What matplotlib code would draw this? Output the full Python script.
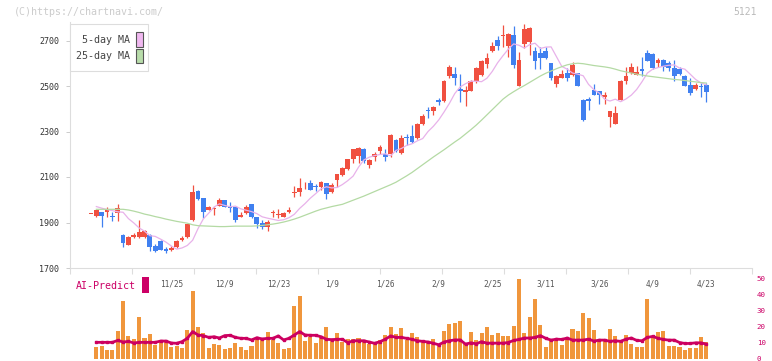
import numpy as np
import matplotlib
matplotlib.use("Agg")
import matplotlib.pyplot as plt
from matplotlib.patches import Rectangle

# daily candles, oldest first (index 0 is a flat no-trade day)
opens = [1939, 1927, 1946, 1948, 1930, 1940, 1844, 1802, 1837, 1837,
         1837, 1844, 1797, 1819, 1783, 1778, 1792, 1825, 1837, 1911,
         2038, 2006, 1955, 1958, 1974, 1998, 1967, 1968, 1925, 1941,
         1980, 1922, 1896, 1881, 1940, 1933, 1925, 1948, 2028, 2034,
         2054, 2072, 2060, 2056, 2072, 2034, 2085, 2108, 2137, 2177,
         2191, 2225, 2152, 2187, 2216, 2203, 2199, 2264, 2206, 2274,
         2282, 2272, 2334, 2394, 2388, 2437, 2432, 2542, 2553, 2488,
         2472, 2479, 2520, 2549, 2597, 2655, 2702, 2718, 2677, 2724,
         2501, 2683, 2695, 2654, 2644, 2654, 2600, 2508, 2537, 2556,
         2549, 2556, 2440, 2441, 2483, 2476, 2450, 2362, 2335, 2440,
         2524, 2556, 2550, 2574, 2644, 2641, 2603, 2615, 2603, 2578,
         2575, 2545, 2505, 2488, 2501, 2505]
highs = [1939, 1956, 1948, 1968, 1946, 1980, 1849, 1840, 1854, 1910,
         1866, 1849, 1805, 1822, 1793, 1796, 1825, 1841, 1895, 2063,
         2043, 2009, 1972, 1970, 2009, 2000, 1989, 1970, 1947, 1976,
         1982, 1924, 1910, 1910, 1955, 1958, 1944, 1966, 2060, 2094,
         2079, 2085, 2071, 2082, 2075, 2075, 2113, 2143, 2181, 2225,
         2234, 2227, 2177, 2208, 2240, 2225, 2289, 2269, 2286, 2291,
         2327, 2337, 2377, 2406, 2410, 2447, 2527, 2593, 2583, 2553,
         2498, 2526, 2585, 2615, 2644, 2692, 2721, 2768, 2731, 2765,
         2651, 2772, 2759, 2673, 2673, 2673, 2602, 2549, 2571, 2578,
         2604, 2558, 2444, 2451, 2510, 2478, 2473, 2391, 2413, 2527,
         2583, 2600, 2588, 2626, 2658, 2643, 2622, 2618, 2610, 2615,
         2585, 2547, 2534, 2513, 2513, 2515]
lows = [1939, 1925, 1880, 1924, 1907, 1907, 1793, 1800, 1830, 1831,
        1834, 1776, 1771, 1777, 1765, 1776, 1787, 1820, 1834, 1907,
        1997, 1921, 1953, 1932, 1971, 1966, 1944, 1903, 1922, 1936,
        1920, 1878, 1871, 1863, 1922, 1919, 1922, 1941, 2014, 2017,
        2046, 2041, 2039, 2041, 2005, 2031, 2054, 2105, 2129, 2162,
        2162, 2162, 2140, 2170, 2202, 2170, 2187, 2209, 2199, 2240,
        2250, 2269, 2327, 2359, 2371, 2415, 2429, 2537, 2505, 2428,
        2410, 2476, 2512, 2542, 2578, 2648, 2658, 2673, 2629, 2581,
        2498, 2666, 2636, 2575, 2575, 2619, 2527, 2494, 2534, 2520,
        2546, 2500, 2348, 2396, 2461, 2420, 2422, 2318, 2333, 2437,
        2510, 2553, 2548, 2545, 2610, 2575, 2582, 2568, 2564, 2524,
        2550, 2500, 2462, 2483, 2450, 2428]
closes = [1939, 1953, 1929, 1959, 1924, 1962, 1811, 1835, 1846, 1857,
          1862, 1793, 1776, 1780, 1776, 1789, 1818, 1834, 1892, 2032,
          2002, 1946, 1970, 1961, 1998, 1968, 1963, 1910, 1932, 1968,
          1922, 1893, 1881, 1904, 1944, 1937, 1941, 1953, 2033, 2050,
          2058, 2043, 2056, 2079, 2025, 2065, 2111, 2140, 2177, 2221,
          2228, 2170, 2173, 2203, 2234, 2187, 2286, 2216, 2272, 2270,
          2253, 2334, 2369, 2390, 2407, 2428, 2524, 2585, 2537, 2476,
          2483, 2523, 2578, 2610, 2625, 2676, 2676, 2722, 2728, 2593,
          2615, 2750, 2756, 2610, 2622, 2622, 2534, 2542, 2552, 2537,
          2593, 2502, 2352, 2436, 2462, 2459, 2462, 2389, 2382, 2524,
          2545, 2584, 2562, 2568, 2612, 2577, 2615, 2583, 2578, 2542,
          2553, 2502, 2469, 2505, 2495, 2472]

ma5 = [np.nan, 1970, 1963, 1957, 1952, 1947, 1945, 1917, 1898, 1876,
       1862, 1842, 1839, 1827, 1814, 1797, 1783, 1788, 1799, 1822,
       1873, 1916, 1941, 1968, 1982, 1975, 1969, 1972, 1960, 1954,
       1948, 1939, 1925, 1919, 1914, 1909, 1912, 1921, 1936, 1962,
       1983, 2007, 2027, 2048, 2057, 2052, 2054, 2067, 2084, 2104,
       2143, 2175, 2187, 2194, 2199, 2202, 2193, 2217, 2225, 2239,
       2246, 2259, 2269, 2300, 2323, 2351, 2386, 2424, 2467, 2496,
       2510, 2521, 2521, 2519, 2534, 2564, 2602, 2633, 2662, 2685,
       2679, 2667, 2682, 2688, 2665, 2671, 2672, 2629, 2586, 2574,
       2557, 2552, 2545, 2507, 2484, 2469, 2442, 2434, 2442, 2431,
       2443, 2460, 2485, 2519, 2557, 2574, 2581, 2587, 2591, 2593,
       2579, 2574, 2552, 2529, 2514, 2505]
ma25 = [np.nan, 1958, 1958, 1958, 1958, 1958, 1958, 1955, 1950, 1944,
        1937, 1932, 1926, 1921, 1915, 1910, 1905, 1901, 1897, 1890,
        1886, 1885, 1884, 1883, 1882, 1882, 1883, 1884, 1884, 1884,
        1884, 1885, 1887, 1890, 1893, 1897, 1902, 1908, 1915, 1923,
        1932, 1941, 1950, 1958, 1964, 1970, 1975, 1980, 1989, 1998,
        2007, 2016, 2026, 2036, 2046, 2056, 2066, 2077, 2091, 2105,
        2120, 2137, 2154, 2171, 2188, 2204, 2220, 2237, 2254, 2270,
        2289, 2308, 2328, 2350, 2373, 2396, 2419, 2442, 2460, 2475,
        2489, 2502, 2516, 2530, 2544, 2556, 2566, 2576, 2585, 2593,
        2598, 2600, 2598, 2594, 2590, 2587, 2584, 2580, 2574, 2567,
        2562, 2557, 2552, 2548, 2544, 2541, 2538, 2535, 2532, 2529,
        2527, 2524, 2521, 2518, 2515, 2513]

volume = [0, 7.4, 8.0, 5.5, 5.5, 17.4, 36.1, 14.1, 12.2, 26.1,
          13.0, 15.3, 8.4, 11.6, 10.5, 7.4, 8.0, 6.8, 17.8, 42.4,
          19.9, 16.1, 6.8, 9.1, 8.4, 5.9, 6.8, 9.5, 7.4, 5.5,
          8.0, 12.0, 11.6, 16.8, 11.6, 9.9, 5.7, 6.8, 33.0, 39.3,
          11.1, 13.2, 9.9, 13.2, 19.9, 11.1, 16.1, 10.5, 12.2, 12.0,
          12.6, 11.6, 9.1, 10.3, 11.6, 14.7, 19.9, 15.3, 19.0, 11.6,
          15.7, 13.2, 10.5, 10.5, 12.0, 8.4, 17.4, 21.6, 22.4, 23.6,
          10.0, 16.8, 11.7, 15.7, 19.9, 14.9, 15.7, 14.3, 14.3, 20.6,
          49.5, 15.7, 26.2, 36.9, 21.2, 7.3, 10.7, 10.7, 8.6, 12.8,
          18.7, 17.4, 28.7, 25.6, 18.0, 11.7, 11.7, 18.7, 14.3, 11.1,
          14.9, 9.2, 7.3, 7.3, 36.9, 13.6, 16.8, 17.4, 7.9, 7.9,
          7.3, 5.4, 6.7, 6.7, 13.6, 10.5]
ai_predict = [np.nan, 10.1, 10.1, 10.1, 10.1, 11.3, 10.3, 10.7, 9.7, 10.1,
              10.1, 10.1, 10.1, 10.9, 10.9, 9.7, 9.5, 10.5, 12.6, 16.8,
              14.7, 14.3, 13.2, 13.6, 12.8, 14.3, 14.5, 13.2, 12.6, 12.6,
              11.6, 13.0, 12.2, 12.6, 12.6, 14.1, 11.6, 12.6, 14.7, 16.8,
              14.7, 14.5, 14.5, 13.6, 12.0, 11.8, 12.0, 12.0, 9.9, 11.1,
              11.1, 11.1, 10.3, 9.5, 10.5, 12.0, 14.1, 13.2, 13.2, 12.6,
              12.0, 11.1, 10.7, 10.3, 9.5, 8.6, 10.3, 11.1, 11.6, 11.6,
              9.0, 9.8, 9.2, 10.5, 9.6, 9.6, 9.6, 9.6, 10.0, 11.3,
              11.9, 12.8, 12.8, 13.2, 14.3, 12.6, 11.5, 12.1, 11.9, 12.8,
              11.5, 11.5, 11.5, 12.1, 10.9, 11.5, 11.5, 10.7, 11.1, 10.7,
              12.1, 12.8, 11.3, 11.1, 13.2, 13.8, 12.6, 11.9, 11.5, 11.5,
              10.0, 9.4, 9.4, 9.8, 9.8, 9.0]

date_labels = ["11/25", "12/9", "12/23", "1/9", "1/26", "2/9",
               "2/25", "3/11", "3/26", "4/9", "4/23"]
date_index = [15, 25, 35, 45, 55, 65, 75, 85, 95, 105, 115]

W, H = 772, 361
MONO = "DejaVu Sans Mono"
UP, DOWN = "#f05040", "#4080f0"

o = np.array(opens, float)
c = np.array(closes, float)
x = np.arange(len(c))
col = [UP if cc >= oo else DOWN for oo, cc in zip(o, c)]

fig = plt.figure(figsize=(W / 100, H / 100), dpi=100)
ax = fig.add_axes([70 / W, 1 - 268 / H, 682 / W, (268 - 22.3) / H])
axv = fig.add_axes([70 / W, 1 - 358.5 / H, 682 / W, 80 / H])

xlim = ((70 - 91) / 5.35, (752 - 91) / 5.35)

ax.vlines(x, lows, highs, colors=col, linewidth=0.9, zorder=2)
ax.bar(x, np.maximum(np.abs(c - o), 4), bottom=np.minimum(o, c), width=0.88,
       color=col, linewidth=0, zorder=3)
ax.plot(x, ma5, color="#e8b2ea", lw=0.9, zorder=4)
ax.plot(x, ma25, color="#b4daa4", lw=0.9, zorder=4)

ax.set_xlim(xlim)
ax.set_ylim(1700, 2780)
ax.set_yticks(range(1700, 2701, 200))
ax.set_xticks(date_index)
ax.set_xticklabels(date_labels)
ax.set_xticks(np.arange(xlim[0], xlim[1] + 0.1, 62 / 5.35), minor=True)
for lab in ax.get_yticklabels() + ax.get_xticklabels():
    lab.set_family(MONO)
ax.tick_params(axis="y", length=3.1, width=0.7, color="#cccccc", pad=4.5,
               labelsize=6, labelcolor="#333333")
ax.tick_params(axis="x", which="major", length=0, pad=8.5, labelsize=5.6,
               labelcolor="#555555")
ax.tick_params(axis="x", which="minor", length=4.5, width=0.8, color="#dddddd")
for s in ["top", "right"]:
    ax.spines[s].set_visible(False)
for s in ["left", "bottom"]:
    ax.spines[s].set_color("#dddddd")
    ax.spines[s].set_linewidth(0.8)

# AI-Predict panel
axv.bar(x, volume, width=0.75, color="#f0963c", linewidth=0)
axv.plot(x, ai_predict, color="#cc0060", lw=2.0, marker="s", ms=2.0, zorder=3)
axv.set_xlim(xlim)
axv.set_ylim(0, 50)
axv.set_xticks([])
axv.yaxis.tick_right()
axv.set_yticks(range(0, 51, 10))
for lab in axv.get_yticklabels():
    lab.set_family(MONO)
axv.tick_params(axis="y", length=0, pad=3.5, labelsize=5.4, labelcolor="#cc0066")
for s in axv.spines.values():
    s.set_visible(False)
axv.patch.set_visible(False)

# legend box
fig.add_artist(Rectangle((70.3 / W, 1 - 71 / H), 78 / W, 47 / H, transform=fig.transFigure,
                         facecolor="white", edgecolor="#dddddd", lw=0.8, zorder=5))
fig.text(129.5 / W, 1 - 40 / H, "5-day MA", ha="right", va="center", fontsize=7.2,
         family=MONO, color="#444444", zorder=6)
fig.text(129.5 / W, 1 - 56 / H, "25-day MA", ha="right", va="center", fontsize=7.2,
         family=MONO, color="#444444", zorder=6)
fig.add_artist(Rectangle((136.3 / W, 1 - 46.7 / H), 6.4 / W, 15.2 / H, transform=fig.transFigure,
                         facecolor="#f0b8f0", edgecolor="#555555", lw=0.8, zorder=6))
fig.add_artist(Rectangle((136.3 / W, 1 - 63.3 / H), 6.4 / W, 14.6 / H, transform=fig.transFigure,
                         facecolor="#b8dcaa", edgecolor="#555555", lw=0.8, zorder=6))

fig.text(14 / W, 1 - 12.3 / H, "(C)https://chartnavi.com/", ha="left", va="center",
         fontsize=7.2, family=MONO, color="#cccccc")
fig.text(756.7 / W, 1 - 12 / H, "5121", ha="right", va="center", fontsize=7,
         family=MONO, color="#bbbbbb")

fig.text(75.7 / W, 1 - 285.7 / H, "AI-Predict", ha="left", va="center", fontsize=7.2,
         family=MONO, color="#cc0066")
fig.add_artist(Rectangle((142 / W, 1 - 292.7 / H), 6.7 / W, 15.7 / H, transform=fig.transFigure,
                         facecolor="#cc0066", edgecolor="none"))

fig.savefig("out.png", dpi=100)
